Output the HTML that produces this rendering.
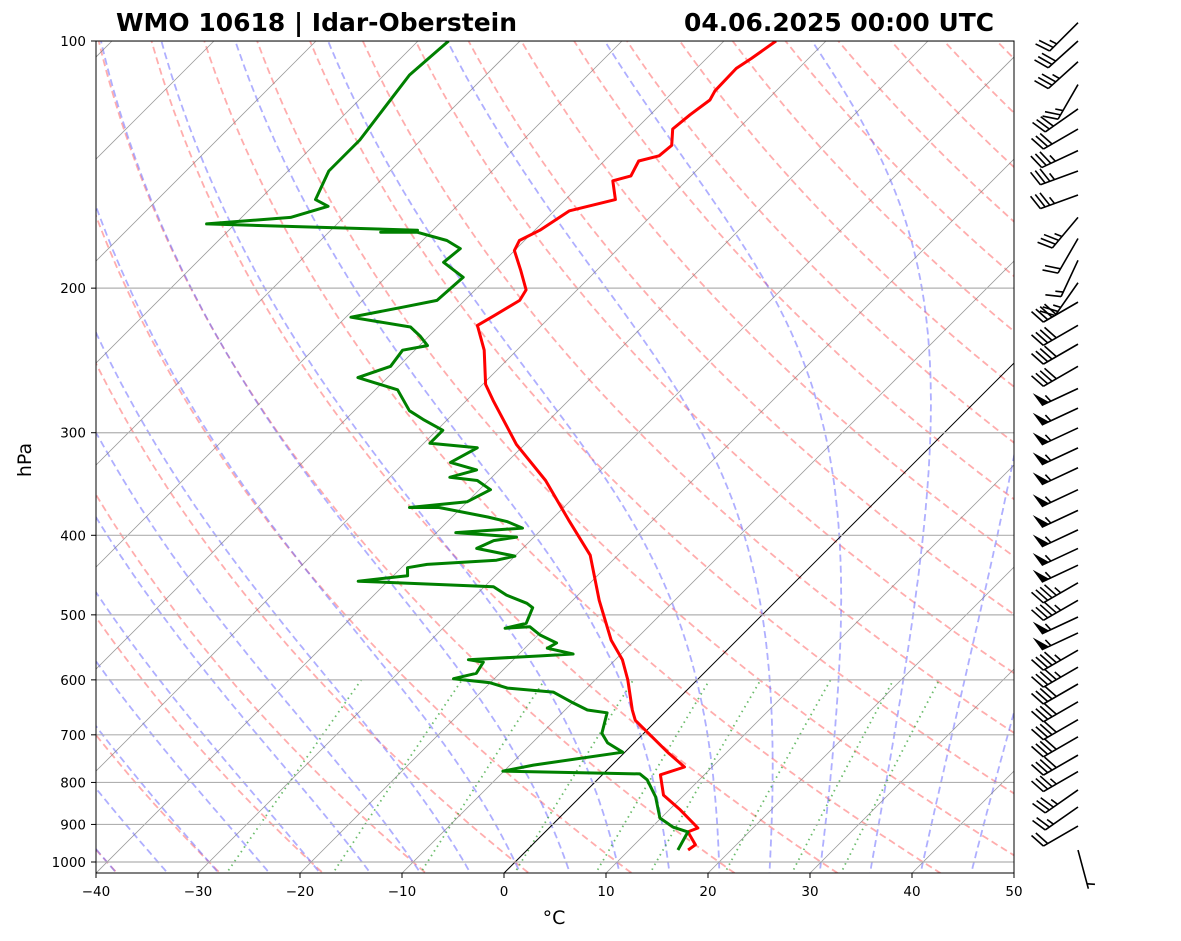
<!DOCTYPE html>
<html><head><meta charset="utf-8"><style>
body{margin:0;background:#fff;}
svg{display:block;font-family:"DejaVu Sans","Liberation Sans",sans-serif;}
</style></head><body>
<svg id="chart" width="1181" height="941" viewBox="0 0 1181 941" xmlns="http://www.w3.org/2000/svg">
<defs><clipPath id="plotclip"><rect x="96" y="41" width="918" height="832"/></clipPath></defs>
<rect width="1181" height="941" fill="#fff"/>
<g id="bg" clip-path="url(#plotclip)"></g>
<g id="series" clip-path="url(#plotclip)"></g>
<rect x="96" y="41" width="918" height="832" fill="none" stroke="#000" stroke-width="1"/>
<g id="axes"></g>
<g id="barbs"></g>
<text x="116" y="31" font-size="25" font-weight="bold" textLength="401" lengthAdjust="spacingAndGlyphs">WMO 10618 | Idar-Oberstein</text>
<text x="684" y="31" font-size="25" font-weight="bold" textLength="310" lengthAdjust="spacingAndGlyphs">04.06.2025 00:00 UTC</text>
<text x="554" y="924" font-size="19" text-anchor="middle">°C</text>
<text transform="translate(31,460) rotate(-90)" font-size="19" text-anchor="middle">hPa</text>
</svg>
<script>
// ---- data ----
const tempP=[967,953,919,909,864,829,783,766,735,672,653,600,567,537,480,423,383,343,310,274,262,238,222,216,207,201,190,180,175,170,161,156,148,146,140,138,134,128,123,118,115,108,105,100];
const tempC=[15.8,16.0,14.0,14.6,11.1,8.0,5.7,7.3,4.2,-2.1,-3.4,-6.8,-9.3,-12.3,-17.4,-22.7,-28.3,-34.4,-40.8,-47.4,-49.7,-53.2,-56.3,-55.6,-54.6,-55.0,-57.5,-60.0,-60.5,-59.5,-58.5,-55.1,-57.2,-55.9,-56.6,-55.1,-54.9,-56.4,-56.1,-55.6,-56.0,-56.1,-55.6,-54.9];
const dewP=[967,919,907,884,833,794,781,775,762,735,716,697,658,653,640,621,614,605,598,589,571,567,561,558,549,541,529,517,519,512,490,484,473,462,455,448,438,434,429,424,415,406,402,397,392,385,380,370,370,364,352,343,340,333,326,313,309,298,289,282,266,257,249,238,235,229,223,217,211,207,194,186,179,175,171,171,170,167,164,159,156,144,132,110,100];
const dewC=[14.8,14.0,12.1,9.9,7.4,4.9,3.6,-10.1,-7.7,-0.2,-2.6,-4.1,-5.6,-7.8,-9.9,-12.9,-17.8,-20.0,-24.0,-22.3,-22.7,-24.4,-17.7,-14.7,-17.8,-17.4,-19.8,-21.6,-23.9,-22.3,-23.2,-24.2,-27.0,-29.1,-42.9,-38.6,-39.4,-37.8,-31.4,-30.0,-34.5,-33.6,-31.7,-38.1,-32.0,-34.1,-36.5,-42.2,-45.1,-40.0,-38.9,-41.1,-44.1,-42.2,-45.5,-44.3,-49.4,-49.4,-52.4,-54.6,-57.8,-62.9,-60.8,-61.2,-59.2,-60.8,-62.7,-69.5,-65.4,-62.7,-62.4,-65.8,-65.5,-67.6,-71.3,-74.9,-71.5,-92.8,-85.2,-82.6,-84.5,-86.0,-86.0,-87.5,-87.0];
const barbP=[95,100,106,113,121,128,136,144,154,164,174,185,197,208,222,234,249,265,280,296,313,331,352,373,394,415,435,457,480,503,526,552,579,607,638,671,704,741,776,817,857,904,967];
const barbSpd=[25,30,35,25,30,30,35,35,35,35,20,15,25,40,40,40,40,55,55,55,55,55,55,55,55,55,55,45,45,55,55,45,45,40,40,40,40,40,35,35,25,20,5];
const barbDir=[225,228,228,210,235,240,245,250,250,220,210,205,215,240,240,240,240,245,245,245,245,245,245,245,245,245,245,240,240,245,245,240,240,240,240,240,240,240,240,235,235,240,165];
const xTicks=[-40,-30,-20,-10,0,10,20,30,40,50];
const yTicks=[100,200,300,400,500,600,700,800,900,1000];

// ---- axes functions ----
const NS="http://www.w3.org/2000/svg";
function Y(p){return 41+(Math.log10(p)-2)*821;}
function X(T,p){return 96+(T+40)*10.2+(873-Y(p));}
function mk(tag,attrs,parent){const e=document.createElementNS(NS,tag);for(const k in attrs)e.setAttribute(k,attrs[k]);parent.appendChild(e);return e;}
const bg=document.getElementById('bg'),ser=document.getElementById('series'),ax=document.getElementById('axes'),bb=document.getElementById('barbs');
function pathFrom(pts){return pts.map((q,i)=>(i?'L':'M')+q[0].toFixed(1)+' '+q[1].toFixed(1)).join(' ');}
const pLevels=[];for(let p=1050;p>=90;p-=5)pLevels.push(p);

// dry adiabats
for(let th=-40;th<=220;th+=10){
  const pts=pLevels.map(p=>[X((th+273.15)*Math.pow(p/1000,0.2857)-273.15,p),Y(p)]);
  const e=mk('path',{d:pathFrom(pts),fill:'none',stroke:'#ff6a6a','stroke-opacity':'0.55','stroke-width':'1.8','stroke-dasharray':'7 4'},bg);
  
  
}
// moist adiabats
function es(tc){return 6.112*Math.exp(17.67*tc/(tc+243.5));}
function dTdp(T,p){const tc=T-273.15;const e=es(tc);const rs=0.622*e/(p-e);const Rd=287.04,Lv=2.501e6,Cp=1005.7;
  return (1/p)*(Rd*T+Lv*rs)/(Cp+Lv*Lv*rs*0.622/(Rd*T*T));}
for(let t0=-40;t0<=50;t0+=5){
  let T=t0+273.15,p=1000;const up=[[X(t0,1000),Y(1000)]];
  while(p>100){const h=-2;T+=dTdp(T,p)*h;p+=h;up.push([X(T-273.15,p),Y(p)]);}
  T=t0+273.15;p=1000;const dn=[];
  while(p<1050){const h=2;T+=dTdp(T,p)*h;p+=h;dn.push([X(T-273.15,p),Y(p)]);}
  const pts=dn.reverse().concat(up);
  const e=mk('path',{d:pathFrom(pts),fill:'none',stroke:'#5f5fff','stroke-opacity':'0.5','stroke-width':'1.8','stroke-dasharray':'7 4'},bg);
  
  
}
// mixing ratio lines
[0.0004,0.001,0.002,0.004,0.007,0.01,0.016,0.024,0.032].forEach(w=>{
  const pts=[];for(let p=1050;p>=600;p-=10){const e=p*w/(0.622+w);const l=Math.log(e/6.112);const td=243.5*l/(17.67-l);pts.push([X(td,p),Y(p)]);}
  const el=mk('path',{d:pathFrom(pts),fill:'none',stroke:'#2ca02c','stroke-opacity':'0.7','stroke-width':'1.8','stroke-dasharray':'1.5 4'},bg);
  
  
});
// isotherms
for(let t=-140;t<=50;t+=10){
  const e=mk('line',{x1:X(t,1031),y1:873,x2:X(t,100),y2:41,stroke:t===0?'#000':'#808080','stroke-width':t===0?'1':'0.8','stroke-opacity':t===0?'1':'0.8'},bg);
  
  
}
// isobars + y ticks
yTicks.forEach(p=>{
  const y=Y(p);
  const g=mk('line',{x1:96,x2:1014,y1:y,y2:y,stroke:'#b0b0b0','stroke-width':'1.2'},bg);
  
  
  const t=mk('line',{x1:91,x2:96,y1:y,y2:y,stroke:'#000'},ax);
  
  
  const l=mk('text',{x:86,y:y+5,'font-size':'13.5','text-anchor':'end'},ax);l.textContent=p;
  
  
});
xTicks.forEach(T=>{
  const x=96+(T+40)*10.2;
  const t=mk('line',{x1:x,x2:x,y1:873,y2:878,stroke:'#000'},ax);
  
  
  const l=mk('text',{x:x,y:896,'font-size':'13.5','text-anchor':'middle'},ax);l.textContent=(T<0?'\u2212'+(-T):T);
  
  
});
// profiles
const tl=mk('path',{d:pathFrom(tempP.map((p,i)=>[X(tempC[i],p),Y(p)])),fill:'none',stroke:'#f00','stroke-width':'3','stroke-linejoin':'round'},ser);


const dl=mk('path',{d:pathFrom(dewP.map((p,i)=>[X(dewC[i],p),Y(p)])),fill:'none',stroke:'#008000','stroke-width':'3','stroke-linejoin':'round'},ser);


// wind barbs
barbP.forEach((p,i)=>{
  const bx=1078,by=Y(p),L=40;
  const a=barbDir[i]*Math.PI/180;
  const ux=Math.sin(a),uy=-Math.cos(a);
  const nx=-uy,ny=ux;
  const tx=bx+ux*L,ty=by+uy*L;
  const g=mk('g',{},bb);
  
  
  mk('line',{x1:bx,y1:by,x2:tx,y2:ty,stroke:'#000','stroke-width':'1.6'},g);
  let s=Math.round(barbSpd[i]/5)*5,d=0;
  const nX=(ny>0?-nx:nx),nY=(ny>0?-ny:ny);
  while(s>=50){
    const x0=tx-ux*d,y0=ty-uy*d,x1=tx-ux*(d+8),y1=ty-uy*(d+8);
    mk('polygon',{points:`${x0},${y0} ${x1},${y1} ${x0+nX*15+ux*3},${y0+nY*15+uy*3}`,fill:'#000'},g);
    d+=10;s-=50;
  }
  while(s>=10){
    const x0=tx-ux*d,y0=ty-uy*d;
    mk('line',{x1:x0,y1:y0,x2:x0+nX*15+ux*5,y2:y0+nY*15+uy*5,stroke:'#000','stroke-width':'1.6'},g);
    d+=5;s-=10;
  }
  if(s>=5){
    if(d===0)d=5;
    const x0=tx-ux*d,y0=ty-uy*d;
    mk('line',{x1:x0,y1:y0,x2:x0+nX*7.5+ux*2.5,y2:y0+nY*7.5+uy*2.5,stroke:'#000','stroke-width':'1.6'},g);
  }
});
</script>
</body></html>
